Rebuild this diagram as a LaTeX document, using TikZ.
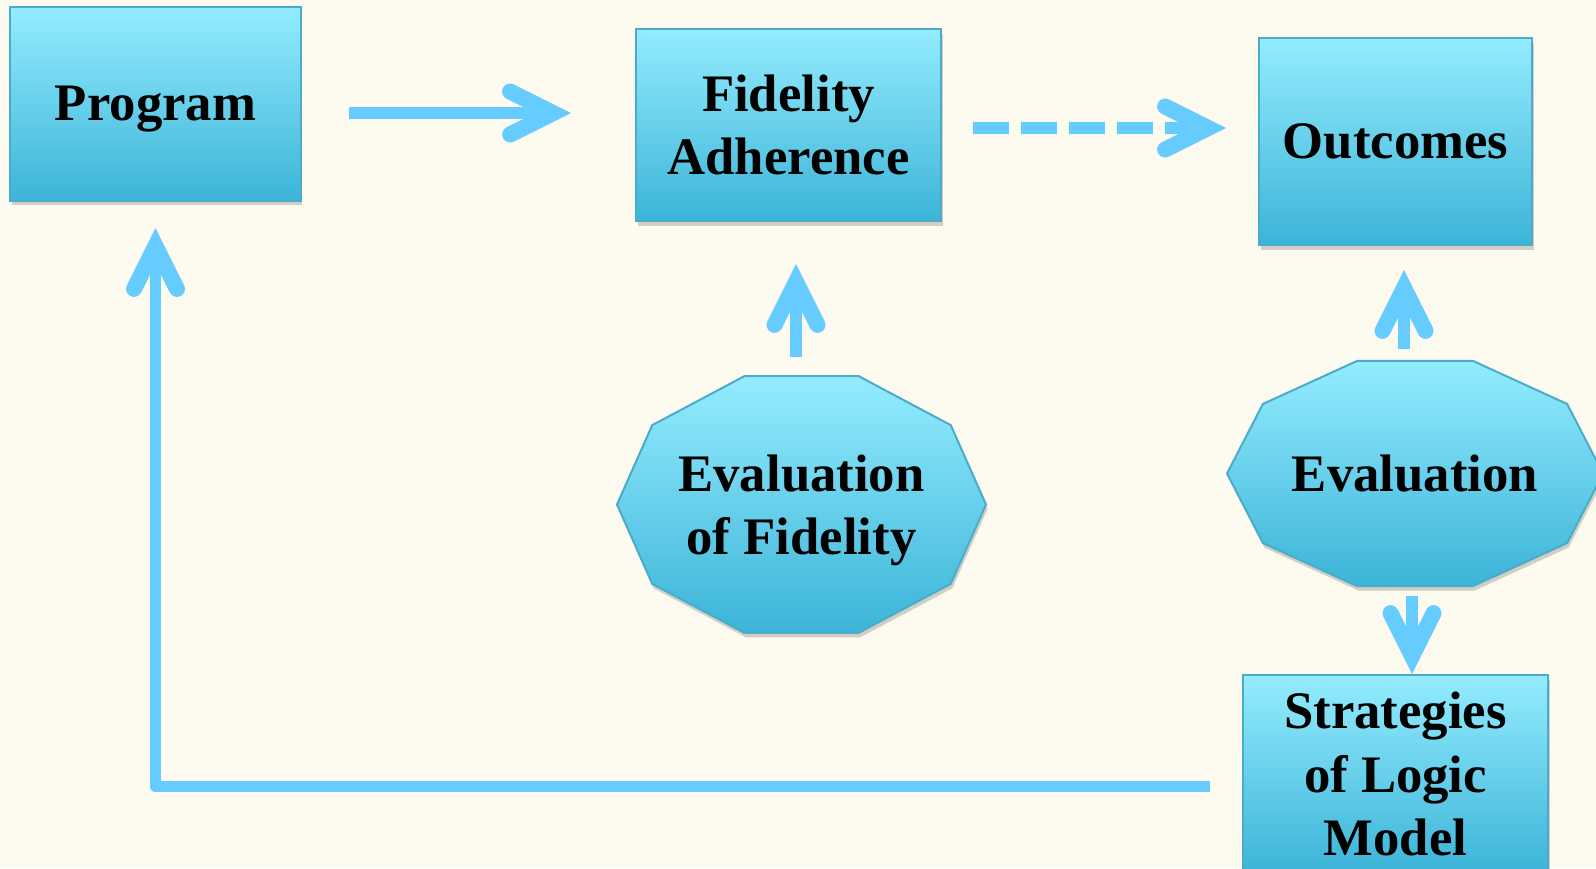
\documentclass[tikz,border=0pt]{standalone}
\usepackage{fontspec}
\setmainfont{Liberation Serif}
\usepackage{xcolor}
\definecolor{fidbg}{HTML}{FDFBEF}
\definecolor{fidtop}{HTML}{94ECFE}
\definecolor{fidbot}{HTML}{3CB4D8}
\definecolor{fidline}{HTML}{4AABCA}
\definecolor{fidarrow}{HTML}{66CCFF}
\usetikzlibrary{arrows.meta,shadows,calc}
\tikzset{
  fidshade/.style={top color=fidtop,bottom color=fidbot,draw=fidline,line width=0.4mm,
    drop shadow={shadow xshift=0.3mm,shadow yshift=-0.9mm,opacity=0.25,fill=black!70}},
  fidbox/.style={fidshade,inner sep=0pt,align=center,font=\bfseries\fontsize{30}{36}\selectfont},
  fidtext/.style={inner sep=0pt,align=center,font=\bfseries\fontsize{30}{36}\selectfont},
  fidflow/.style={draw=fidarrow,line width=2.3mm,-{Straight Barb[length=8.6mm,width=8.6mm,line width=3.2mm 0,line cap=round,line join=miter]}},
  fiddash/.style={fidflow,dash pattern=on 7.2mm off 2.4mm},
}

\begin{document}
\begin{tikzpicture}[x=0.2mm,y=-0.2mm]
\useasboundingbox (0,0) rectangle (1596,868);
\clip (0,0) rectangle (1596,868);
\fill[fidbg] (0,0) rectangle (1596,868);
% evaluation decagons
\coordinate (evfc) at (801.5,504.5);
\coordinate (evc) at (1415,473.5);
\path[fidshade,shift={(evfc)}] plot[samples at={0,36,...,324}] (\x:36.9mm and 27mm) -- cycle;
\path[fidshade,shift={(evc)}] plot[samples at={0,36,...,324}] (\x:37.6mm and 23.66mm) -- cycle;
\node[fidbox,text depth=0pt,minimum width=58mm,minimum height=38.8mm] (prog) at (155.5,103.5) {Program};
\node[fidbox,minimum width=61mm,minimum height=38.4mm] (fid) at (788.5,125) {Fidelity\\Adherence};
\node[fidbox,minimum width=54.6mm,minimum height=41.4mm] (out) at (1395.5,141.5) {Outcomes};
\node[fidbox,minimum width=61mm,minimum height=39.6mm] (strat) at (1395.5,774) {Strategies\\of Logic\\Model};
\node[fidtext,text depth=0pt,minimum width=73.8mm,minimum height=51.4mm] (evf) at (evfc) {Evaluation\\of Fidelity};
\node[fidtext,minimum width=75.2mm,minimum height=45mm] (ev) at (evc) {Evaluation};
\draw[fidflow,shorten <=9.5mm,shorten >=12.8mm] ([yshift=-1.9mm]prog.east) -- ([yshift=-1.9mm]prog.east -| fid.west);
\draw[fiddash,shorten <=6.2mm,shorten >=6.4mm] ([yshift=-0.6mm]fid.east) -- ([yshift=-0.6mm]fid.east -| out.west);
\draw[fidflow,shorten <=3.8mm,shorten >=8.4mm] ([xshift=-1.1mm]evf.north) -- ([xshift=-1.1mm]evf.north |- fid.south);
\draw[fidflow,shorten <=2.4mm,shorten >=4.8mm] ([xshift=-2.2mm]ev.north) -- ([xshift=-2.2mm]ev.north |- out.south);
\draw[fidflow,shorten <=2mm] ([xshift=-0.6mm]ev.south) -- ([xshift=-0.6mm]ev.south |- strat.north);
\draw[fidflow,line join=round,shorten <=6.4mm,shorten >=5.3mm] ([yshift=-2.5mm]strat.west) -| (prog.south);
\end{tikzpicture}
\end{document}
